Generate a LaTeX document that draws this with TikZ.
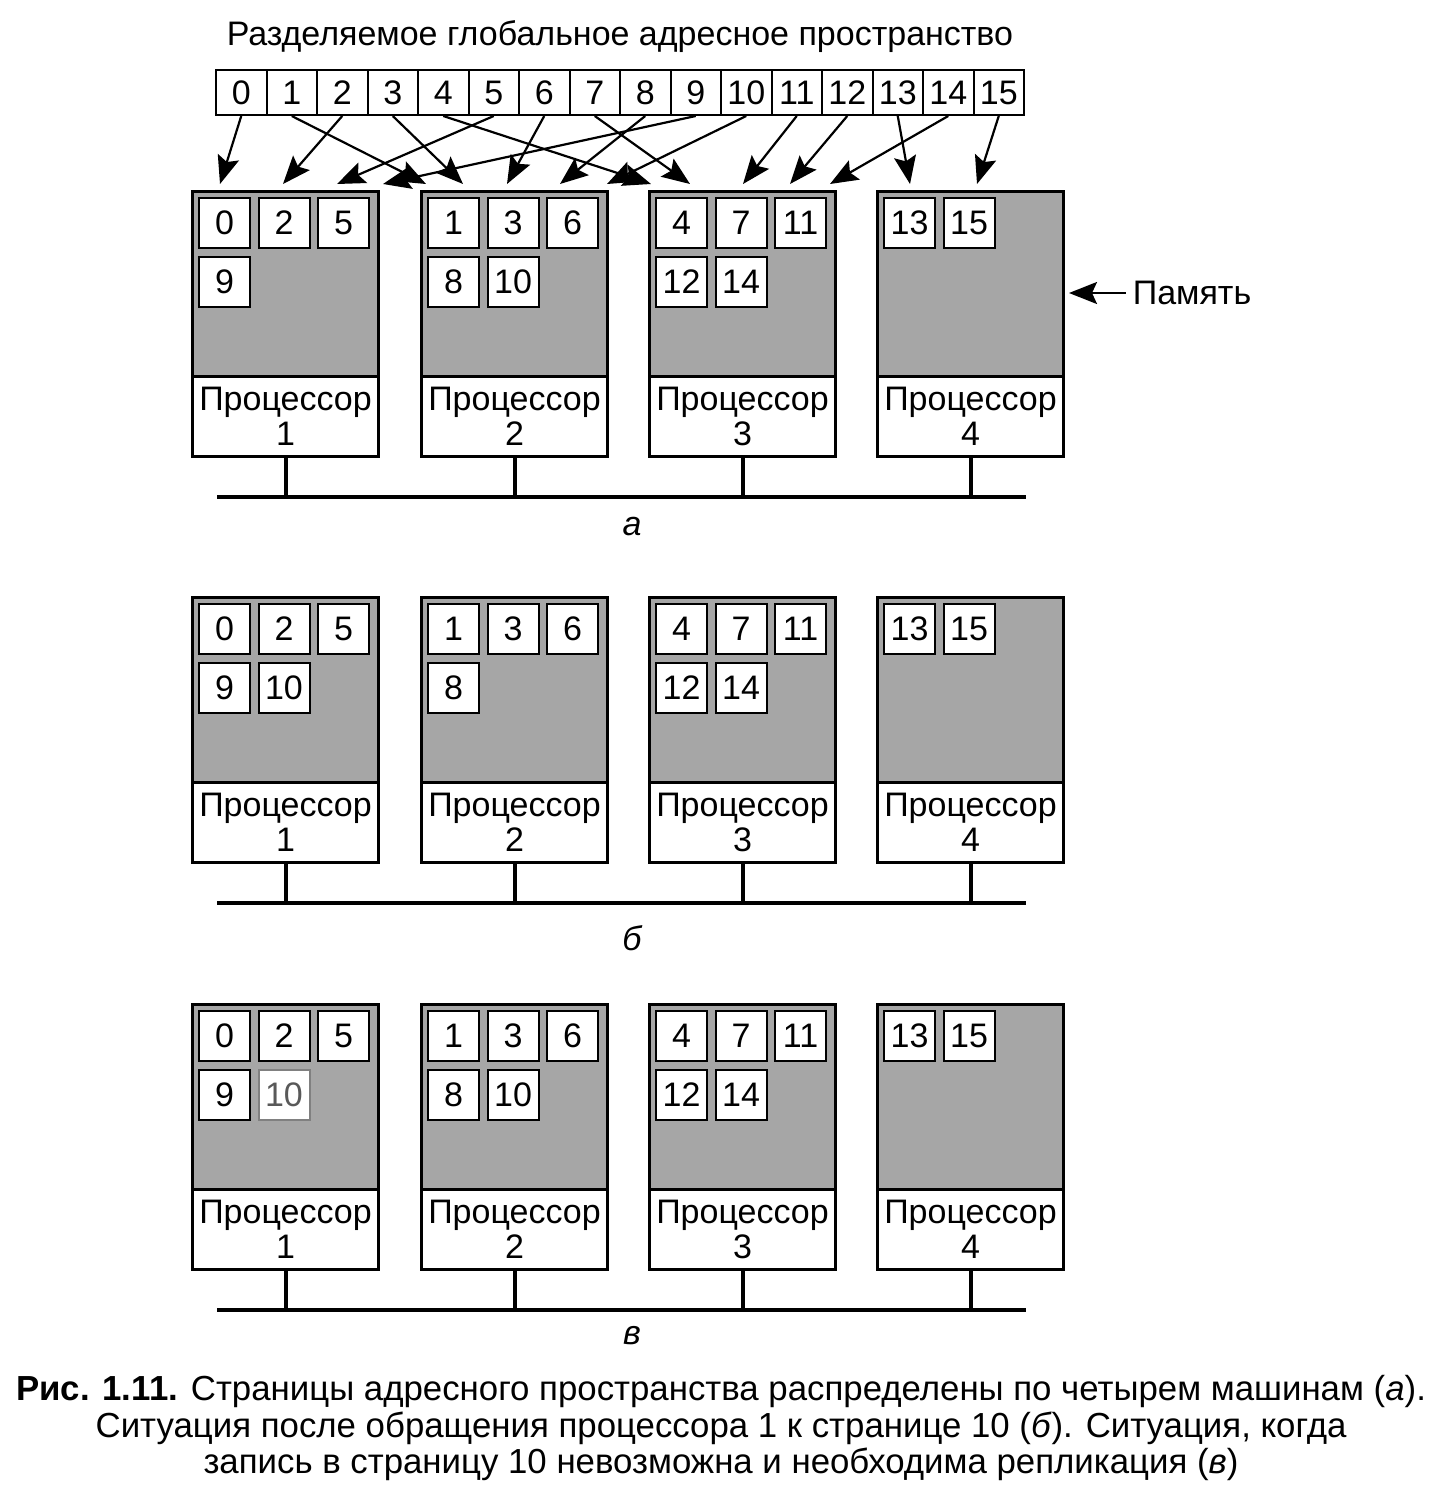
\documentclass[tikz,border=0pt]{standalone}
\usepackage{fontspec}
\setmainfont{Liberation Sans}
\usetikzlibrary{positioning,arrows.meta,calc}

\tikzset{
  mem/.style={draw, line width=1.5pt, fill=black!35, anchor=north west, minimum width=93pt, minimum height=92.5pt, inner sep=0pt},
  cpu/.style={draw, line width=1.5pt, fill=white, anchor=north west, minimum width=93pt, minimum height=40pt, inner sep=0pt, align=center},
  page/.style={draw, line width=1pt, fill=white, minimum width=25.5pt, minimum height=25pt, inner sep=0pt},
  faded/.style={draw=black!50, text=black!65},
  cell/.style={draw, line width=1pt, minimum width=25.25pt, minimum height=22.5pt, inner sep=0pt},
  bus/.style={line width=2pt},
  map/.style={line width=1.1pt, -{Stealth[length=14pt,width=11pt,inset=2.5pt]}},
}

% pages inside one memory: panel, machine, list
\newcommand{\pages}[3]{%
  \foreach \t [count=\i from 0] in {#3} {
    \pgfmathtruncatemacro\cc{mod(\i,3)}
    \pgfmathtruncatemacro\rr{\i/3}
    \node[page] (q#1#2-\t) at ([xshift=16.75pt+29.75pt*\cc, yshift=-16.5pt-29.5pt*\rr]m#1#2.north west) {\t};
  }}

\begin{document}
\begin{tikzpicture}[x=0.5pt, y=-0.5pt, font=\fontsize{17}{17.5}\selectfont]
    \useasboundingbox (0,0) rectangle (1446,1509);

    % Shared global address space
    \node (title) at (620,37) {Разделяемое глобальное адресное пространство};
    \foreach \i in {0,...,15}
      \node[cell] (c\i) at ({216+50.5*(\i+0.5)},92.5) {\i};

    % Four machines, three situations
    \foreach \p/\dy/\lab/\ly in {a/0/а/527, b/406/б/938, c/813/в/1336} {
      \foreach \n/\x in {1/191, 2/420, 3/648, 4/876} {
        \node[mem] (m\p\n) at (\x,190+\dy) {};
        \node[cpu] (p\p\n) at (\x,375+\dy) {Процессор\\\n};
      }
      \coordinate (bus\p) at (217,497+\dy);
      \coordinate (busend\p) at (1026,497+\dy);
      \draw[bus] (bus\p) -- (busend\p);
      \foreach \n in {1,...,4}
        \draw[bus] (p\p\n.south) -- (p\p\n.south |- bus\p);
      \node (l\p) at (632,\ly) {\itshape\lab};
    }

    \pages{a}{1}{0,2,5,9}
    \pages{a}{2}{1,3,6,8,10}
    \pages{a}{3}{4,7,11,12,14}
    \pages{a}{4}{13,15}

    \pages{b}{1}{0,2,5,9,10}
    \pages{b}{2}{1,3,6,8}
    \pages{b}{3}{4,7,11,12,14}
    \pages{b}{4}{13,15}

    \pages{c}{1}{0,2,5,9}
    \node[page,faded] (qc1-10) at ([xshift=46.5pt, yshift=-46pt]mc1.north west) {10};
    \pages{c}{2}{1,3,6,8,10}
    \pages{c}{3}{4,7,11,12,14}
    \pages{c}{4}{13,15}

    % Page placement
    \foreach \s/\n/\dx in {0/1/29, 2/1/92, 5/1/146, 9/1/192, 1/2/6, 3/2/43, 6/2/87, 8/2/140, 10/2/187,
                          4/3/3, 7/3/42, 11/3/95, 12/3/142, 14/3/182, 13/4/34, 15/4/101}
      \draw[map] (c\s.south) -- ([xshift=\dx*0.5pt, yshift=3pt]ma\n.north west);

    \node (memlbl) at (1192,293) {Память};
    \draw[map, shorten >=2pt] (memlbl.west) -- (ma4.east |- memlbl.west);

    % Caption
    \node[align=center, font=\fontsize{17.4}{18.3}\selectfont] (caption) at (721,1428)
      {\textbf{Рис. 1.11.} Страницы адресного пространства распределены по четырем машинам (\textit{а}).\\
       Ситуация после обращения процессора 1 к странице 10 (\textit{б}). Ситуация, когда\\
       запись в страницу 10 невозможна и необходима репликация (\textit{в})};
\end{tikzpicture}
\end{document}
